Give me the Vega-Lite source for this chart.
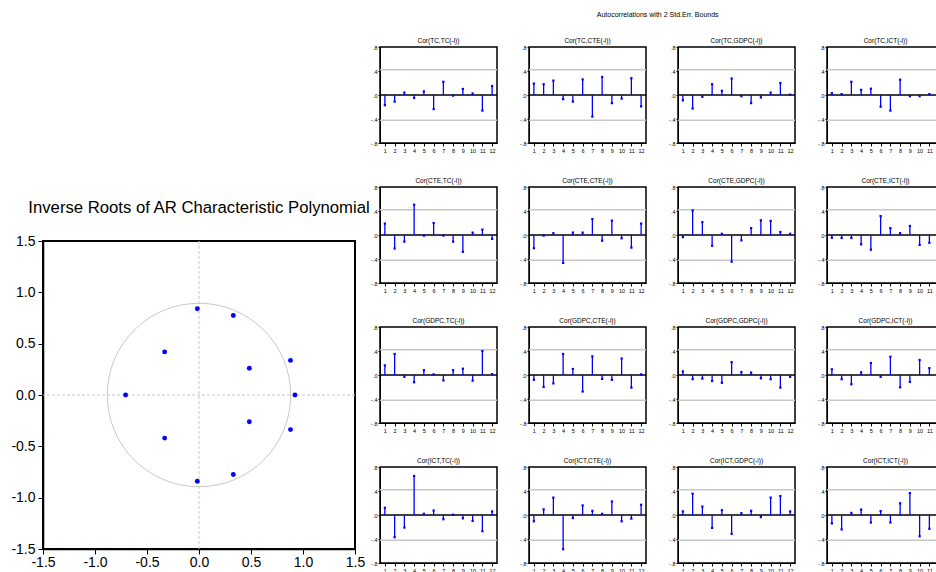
{
"$schema": "https://vega.github.io/schema/vega-lite/v6.json",
"background": "white",
"padding": {"left": 9, "top": 10, "right": 5, "bottom": 5},
"config": {
 "font": "Liberation Sans",
 "view": {"stroke": "black", "strokeWidth": 1.5},
 "axis": {"grid": false, "domainColor": "black", "tickColor": "black", "labelColor": "black", "title": null, "labelOverlap": false, "labelFlush": false},
 "title": {"color": "black", "fontWeight": "normal"}
},
"datasets": {
 "roots": [
  {"re": -0.016, "im": 0.84}, {"re": -0.016, "im": -0.84},
  {"re": 0.33, "im": 0.775}, {"re": 0.33, "im": -0.775},
  {"re": -0.33, "im": 0.42}, {"re": -0.33, "im": -0.42},
  {"re": 0.484, "im": 0.26}, {"re": 0.484, "im": -0.26},
  {"re": 0.88, "im": 0.337}, {"re": 0.88, "im": -0.337},
  {"re": -0.706, "im": 0}, {"re": 0.923, "im": 0}
 ],
 "acf": [
  {"p":"Cor(TC,TC(-i))","lag":1,"r":-0.17},{"p":"Cor(TC,TC(-i))","lag":2,"r":-0.11},{"p":"Cor(TC,TC(-i))","lag":3,"r":0.04},{"p":"Cor(TC,TC(-i))","lag":4,"r":-0.05},{"p":"Cor(TC,TC(-i))","lag":5,"r":0.06},{"p":"Cor(TC,TC(-i))","lag":6,"r":-0.235},{"p":"Cor(TC,TC(-i))","lag":7,"r":0.22},{"p":"Cor(TC,TC(-i))","lag":8,"r":-0.01},{"p":"Cor(TC,TC(-i))","lag":9,"r":0.10},{"p":"Cor(TC,TC(-i))","lag":10,"r":0.025},{"p":"Cor(TC,TC(-i))","lag":11,"r":-0.26},{"p":"Cor(TC,TC(-i))","lag":12,"r":0.15},
  {"p":"Cor(TC,CTE(-i))","lag":1,"r":0.19},{"p":"Cor(TC,CTE(-i))","lag":2,"r":0.18},{"p":"Cor(TC,CTE(-i))","lag":3,"r":0.24},{"p":"Cor(TC,CTE(-i))","lag":4,"r":-0.07},{"p":"Cor(TC,CTE(-i))","lag":5,"r":-0.11},{"p":"Cor(TC,CTE(-i))","lag":6,"r":0.26},{"p":"Cor(TC,CTE(-i))","lag":7,"r":-0.36},{"p":"Cor(TC,CTE(-i))","lag":8,"r":0.30},{"p":"Cor(TC,CTE(-i))","lag":9,"r":-0.135},{"p":"Cor(TC,CTE(-i))","lag":10,"r":-0.06},{"p":"Cor(TC,CTE(-i))","lag":11,"r":0.28},{"p":"Cor(TC,CTE(-i))","lag":12,"r":-0.19},
  {"p":"Cor(TC,GDPC(-i))","lag":1,"r":-0.09},{"p":"Cor(TC,GDPC(-i))","lag":2,"r":-0.225},{"p":"Cor(TC,GDPC(-i))","lag":3,"r":-0.03},{"p":"Cor(TC,GDPC(-i))","lag":4,"r":0.18},{"p":"Cor(TC,GDPC(-i))","lag":5,"r":0.07},{"p":"Cor(TC,GDPC(-i))","lag":6,"r":0.275},{"p":"Cor(TC,GDPC(-i))","lag":7,"r":-0.02},{"p":"Cor(TC,GDPC(-i))","lag":8,"r":-0.135},{"p":"Cor(TC,GDPC(-i))","lag":9,"r":-0.04},{"p":"Cor(TC,GDPC(-i))","lag":10,"r":0.04},{"p":"Cor(TC,GDPC(-i))","lag":11,"r":0.20},{"p":"Cor(TC,GDPC(-i))","lag":12,"r":0.005},
  {"p":"Cor(TC,ICT(-i))","lag":1,"r":0.03},{"p":"Cor(TC,ICT(-i))","lag":2,"r":0.015},{"p":"Cor(TC,ICT(-i))","lag":3,"r":0.22},{"p":"Cor(TC,ICT(-i))","lag":4,"r":0.085},{"p":"Cor(TC,ICT(-i))","lag":5,"r":0.105},{"p":"Cor(TC,ICT(-i))","lag":6,"r":-0.195},{"p":"Cor(TC,ICT(-i))","lag":7,"r":-0.26},{"p":"Cor(TC,ICT(-i))","lag":8,"r":0.255},{"p":"Cor(TC,ICT(-i))","lag":9,"r":-0.02},{"p":"Cor(TC,ICT(-i))","lag":10,"r":-0.02},{"p":"Cor(TC,ICT(-i))","lag":11,"r":0.015},{"p":"Cor(TC,ICT(-i))","lag":12,"r":0.01},
  {"p":"Cor(CTE,TC(-i))","lag":1,"r":0.19},{"p":"Cor(CTE,TC(-i))","lag":2,"r":-0.225},{"p":"Cor(CTE,TC(-i))","lag":3,"r":-0.11},{"p":"Cor(CTE,TC(-i))","lag":4,"r":0.505},{"p":"Cor(CTE,TC(-i))","lag":5,"r":-0.01},{"p":"Cor(CTE,TC(-i))","lag":6,"r":0.20},{"p":"Cor(CTE,TC(-i))","lag":7,"r":-0.01},{"p":"Cor(CTE,TC(-i))","lag":8,"r":-0.11},{"p":"Cor(CTE,TC(-i))","lag":9,"r":-0.28},{"p":"Cor(CTE,TC(-i))","lag":10,"r":0.04},{"p":"Cor(CTE,TC(-i))","lag":11,"r":0.09},{"p":"Cor(CTE,TC(-i))","lag":12,"r":-0.065},
  {"p":"Cor(CTE,CTE(-i))","lag":1,"r":-0.22},{"p":"Cor(CTE,CTE(-i))","lag":2,"r":-0.01},{"p":"Cor(CTE,CTE(-i))","lag":3,"r":0.03},{"p":"Cor(CTE,CTE(-i))","lag":4,"r":-0.465},{"p":"Cor(CTE,CTE(-i))","lag":5,"r":0.04},{"p":"Cor(CTE,CTE(-i))","lag":6,"r":0.04},{"p":"Cor(CTE,CTE(-i))","lag":7,"r":0.265},{"p":"Cor(CTE,CTE(-i))","lag":8,"r":-0.095},{"p":"Cor(CTE,CTE(-i))","lag":9,"r":0.24},{"p":"Cor(CTE,CTE(-i))","lag":10,"r":-0.055},{"p":"Cor(CTE,CTE(-i))","lag":11,"r":-0.21},{"p":"Cor(CTE,CTE(-i))","lag":12,"r":0.19},
  {"p":"Cor(CTE,GDPC(-i))","lag":1,"r":-0.035},{"p":"Cor(CTE,GDPC(-i))","lag":2,"r":0.41},{"p":"Cor(CTE,GDPC(-i))","lag":3,"r":0.215},{"p":"Cor(CTE,GDPC(-i))","lag":4,"r":-0.18},{"p":"Cor(CTE,GDPC(-i))","lag":5,"r":0.02},{"p":"Cor(CTE,GDPC(-i))","lag":6,"r":-0.445},{"p":"Cor(CTE,GDPC(-i))","lag":7,"r":-0.09},{"p":"Cor(CTE,GDPC(-i))","lag":8,"r":0.115},{"p":"Cor(CTE,GDPC(-i))","lag":9,"r":0.245},{"p":"Cor(CTE,GDPC(-i))","lag":10,"r":0.235},{"p":"Cor(CTE,GDPC(-i))","lag":11,"r":0.05},{"p":"Cor(CTE,GDPC(-i))","lag":12,"r":0.02},
  {"p":"Cor(CTE,ICT(-i))","lag":1,"r":-0.045},{"p":"Cor(CTE,ICT(-i))","lag":2,"r":-0.05},{"p":"Cor(CTE,ICT(-i))","lag":3,"r":-0.05},{"p":"Cor(CTE,ICT(-i))","lag":4,"r":-0.155},{"p":"Cor(CTE,ICT(-i))","lag":5,"r":-0.245},{"p":"Cor(CTE,ICT(-i))","lag":6,"r":0.315},{"p":"Cor(CTE,ICT(-i))","lag":7,"r":0.115},{"p":"Cor(CTE,ICT(-i))","lag":8,"r":0.03},{"p":"Cor(CTE,ICT(-i))","lag":9,"r":0.15},{"p":"Cor(CTE,ICT(-i))","lag":10,"r":-0.165},{"p":"Cor(CTE,ICT(-i))","lag":11,"r":-0.13},{"p":"Cor(CTE,ICT(-i))","lag":12,"r":-0.08},
  {"p":"Cor(GDPC,TC(-i))","lag":1,"r":0.16},{"p":"Cor(GDPC,TC(-i))","lag":2,"r":0.35},{"p":"Cor(GDPC,TC(-i))","lag":3,"r":-0.03},{"p":"Cor(GDPC,TC(-i))","lag":4,"r":-0.12},{"p":"Cor(GDPC,TC(-i))","lag":5,"r":0.08},{"p":"Cor(GDPC,TC(-i))","lag":6,"r":0.01},{"p":"Cor(GDPC,TC(-i))","lag":7,"r":-0.09},{"p":"Cor(GDPC,TC(-i))","lag":8,"r":0.08},{"p":"Cor(GDPC,TC(-i))","lag":9,"r":0.105},{"p":"Cor(GDPC,TC(-i))","lag":10,"r":-0.095},{"p":"Cor(GDPC,TC(-i))","lag":11,"r":0.40},{"p":"Cor(GDPC,TC(-i))","lag":12,"r":0.015},
  {"p":"Cor(GDPC,CTE(-i))","lag":1,"r":-0.08},{"p":"Cor(GDPC,CTE(-i))","lag":2,"r":-0.20},{"p":"Cor(GDPC,CTE(-i))","lag":3,"r":-0.14},{"p":"Cor(GDPC,CTE(-i))","lag":4,"r":0.35},{"p":"Cor(GDPC,CTE(-i))","lag":5,"r":0.10},{"p":"Cor(GDPC,CTE(-i))","lag":6,"r":-0.275},{"p":"Cor(GDPC,CTE(-i))","lag":7,"r":0.31},{"p":"Cor(GDPC,CTE(-i))","lag":8,"r":-0.065},{"p":"Cor(GDPC,CTE(-i))","lag":9,"r":-0.08},{"p":"Cor(GDPC,CTE(-i))","lag":10,"r":0.275},{"p":"Cor(GDPC,CTE(-i))","lag":11,"r":-0.21},{"p":"Cor(GDPC,CTE(-i))","lag":12,"r":0.01},
  {"p":"Cor(GDPC,GDPC(-i))","lag":1,"r":0.06},{"p":"Cor(GDPC,GDPC(-i))","lag":2,"r":-0.07},{"p":"Cor(GDPC,GDPC(-i))","lag":3,"r":-0.06},{"p":"Cor(GDPC,GDPC(-i))","lag":4,"r":-0.10},{"p":"Cor(GDPC,GDPC(-i))","lag":5,"r":-0.13},{"p":"Cor(GDPC,GDPC(-i))","lag":6,"r":0.215},{"p":"Cor(GDPC,GDPC(-i))","lag":7,"r":0.05},{"p":"Cor(GDPC,GDPC(-i))","lag":8,"r":0.04},{"p":"Cor(GDPC,GDPC(-i))","lag":9,"r":-0.055},{"p":"Cor(GDPC,GDPC(-i))","lag":10,"r":-0.07},{"p":"Cor(GDPC,GDPC(-i))","lag":11,"r":-0.21},{"p":"Cor(GDPC,GDPC(-i))","lag":12,"r":-0.03},
  {"p":"Cor(GDPC,ICT(-i))","lag":1,"r":0.095},{"p":"Cor(GDPC,ICT(-i))","lag":2,"r":-0.07},{"p":"Cor(GDPC,ICT(-i))","lag":3,"r":-0.155},{"p":"Cor(GDPC,ICT(-i))","lag":4,"r":0.045},{"p":"Cor(GDPC,ICT(-i))","lag":5,"r":0.20},{"p":"Cor(GDPC,ICT(-i))","lag":6,"r":-0.03},{"p":"Cor(GDPC,ICT(-i))","lag":7,"r":0.305},{"p":"Cor(GDPC,ICT(-i))","lag":8,"r":-0.205},{"p":"Cor(GDPC,ICT(-i))","lag":9,"r":-0.115},{"p":"Cor(GDPC,ICT(-i))","lag":10,"r":0.25},{"p":"Cor(GDPC,ICT(-i))","lag":11,"r":0.115},{"p":"Cor(GDPC,ICT(-i))","lag":12,"r":0.08},
  {"p":"Cor(ICT,TC(-i))","lag":1,"r":0.12},{"p":"Cor(ICT,TC(-i))","lag":2,"r":-0.37},{"p":"Cor(ICT,TC(-i))","lag":3,"r":-0.21},{"p":"Cor(ICT,TC(-i))","lag":4,"r":0.65},{"p":"Cor(ICT,TC(-i))","lag":5,"r":0.02},{"p":"Cor(ICT,TC(-i))","lag":6,"r":0.075},{"p":"Cor(ICT,TC(-i))","lag":7,"r":-0.07},{"p":"Cor(ICT,TC(-i))","lag":8,"r":0.005},{"p":"Cor(ICT,TC(-i))","lag":9,"r":-0.055},{"p":"Cor(ICT,TC(-i))","lag":10,"r":-0.10},{"p":"Cor(ICT,TC(-i))","lag":11,"r":-0.27},{"p":"Cor(ICT,TC(-i))","lag":12,"r":0.06},
  {"p":"Cor(ICT,CTE(-i))","lag":1,"r":-0.105},{"p":"Cor(ICT,CTE(-i))","lag":2,"r":0.095},{"p":"Cor(ICT,CTE(-i))","lag":3,"r":0.29},{"p":"Cor(ICT,CTE(-i))","lag":4,"r":-0.57},{"p":"Cor(ICT,CTE(-i))","lag":5,"r":-0.05},{"p":"Cor(ICT,CTE(-i))","lag":6,"r":0.16},{"p":"Cor(ICT,CTE(-i))","lag":7,"r":0.07},{"p":"Cor(ICT,CTE(-i))","lag":8,"r":0.02},{"p":"Cor(ICT,CTE(-i))","lag":9,"r":0.225},{"p":"Cor(ICT,CTE(-i))","lag":10,"r":-0.105},{"p":"Cor(ICT,CTE(-i))","lag":11,"r":-0.06},{"p":"Cor(ICT,CTE(-i))","lag":12,"r":0.17},
  {"p":"Cor(ICT,GDPC(-i))","lag":1,"r":0.06},{"p":"Cor(ICT,GDPC(-i))","lag":2,"r":0.355},{"p":"Cor(ICT,GDPC(-i))","lag":3,"r":0.14},{"p":"Cor(ICT,GDPC(-i))","lag":4,"r":-0.215},{"p":"Cor(ICT,GDPC(-i))","lag":5,"r":0.08},{"p":"Cor(ICT,GDPC(-i))","lag":6,"r":-0.315},{"p":"Cor(ICT,GDPC(-i))","lag":7,"r":0.03},{"p":"Cor(ICT,GDPC(-i))","lag":8,"r":0.07},{"p":"Cor(ICT,GDPC(-i))","lag":9,"r":-0.035},{"p":"Cor(ICT,GDPC(-i))","lag":10,"r":0.29},{"p":"Cor(ICT,GDPC(-i))","lag":11,"r":0.315},{"p":"Cor(ICT,GDPC(-i))","lag":12,"r":0.06},
  {"p":"Cor(ICT,ICT(-i))","lag":1,"r":-0.14},{"p":"Cor(ICT,ICT(-i))","lag":2,"r":-0.24},{"p":"Cor(ICT,ICT(-i))","lag":3,"r":0.035},{"p":"Cor(ICT,ICT(-i))","lag":4,"r":0.09},{"p":"Cor(ICT,ICT(-i))","lag":5,"r":-0.125},{"p":"Cor(ICT,ICT(-i))","lag":6,"r":0.065},{"p":"Cor(ICT,ICT(-i))","lag":7,"r":-0.125},{"p":"Cor(ICT,ICT(-i))","lag":8,"r":0.195},{"p":"Cor(ICT,ICT(-i))","lag":9,"r":0.365},{"p":"Cor(ICT,ICT(-i))","lag":10,"r":-0.355},{"p":"Cor(ICT,ICT(-i))","lag":11,"r":-0.23},{"p":"Cor(ICT,ICT(-i))","lag":12,"r":-0.1}
 ]
},
"spacing": -3,
"hconcat": [
 {
  "spacing": 0,
  "vconcat": [
   {"width": 312, "height": 151, "data": {"values": [{"a": 1}]}, "mark": {"type": "point", "opacity": 0}, "encoding": {}, "view": {"stroke": "transparent"}},
   {
    "width": 312, "height": 308,
    "title": {"text": "Inverse Roots of AR Characteristic Polynomial", "fontSize": 16.7, "anchor": "middle", "offset": 17},
    "view": {"stroke": "black", "strokeWidth": 2},
    "layer": [
     {"data": {"values": [{"v": 0}]}, "mark": {"type": "rule", "color": "#c8c8c8", "strokeDash": [3, 2], "strokeWidth": 1},
      "encoding": {"x": {"field": "v", "type": "quantitative", "scale": {"domain": [-1.5, 1.5], "nice": false, "zero": false}}}},
     {"data": {"values": [{"v": 0}]}, "mark": {"type": "rule", "color": "#c8c8c8", "strokeDash": [3, 2], "strokeWidth": 1},
      "encoding": {"y": {"field": "v", "type": "quantitative", "scale": {"domain": [-1.5, 1.5], "nice": false, "zero": false}}}},
     {"data": {"values": [{"cx": 0, "cy": 0}]}, "mark": {"type": "point", "shape": "circle", "filled": false, "size": 33650, "color": "#c8c8c8", "strokeWidth": 1, "opacity": 1},
      "encoding": {"x": {"field": "cx", "type": "quantitative"}, "y": {"field": "cy", "type": "quantitative"}}},
     {"data": {"name": "roots"}, "mark": {"type": "circle", "size": 24, "color": "#0000ff", "opacity": 1},
      "encoding": {
       "x": {"field": "re", "type": "quantitative", "scale": {"domain": [-1.5, 1.5], "nice": false, "zero": false},
             "axis": {"values": [-1.5, -1, -0.5, 0, 0.5, 1, 1.5], "labelExpr": "(datum.value < 0 ? '-' : '') + format(abs(datum.value), '.1f')", "labelFontSize": 14, "tickSize": 5, "labelPadding": 1, "domainWidth": 1.5}},
       "y": {"field": "im", "type": "quantitative", "scale": {"domain": [-1.5, 1.5], "nice": false, "zero": false},
             "axis": {"values": [-1.5, -1, -0.5, 0, 0.5, 1, 1.5], "labelExpr": "(datum.value < 0 ? '-' : '') + format(abs(datum.value), '.1f')", "labelFontSize": 14, "tickSize": 5, "labelPadding": 3, "domainWidth": 1.5}}
      }}
    ]
   }
  ]
 },
 {
  "data": {"name": "acf"},
  "title": {"text": "Autocorrelations with 2 Std.Err. Bounds", "fontSize": 7, "anchor": "middle", "offset": 19},
  "facet": {"field": "p", "type": "nominal",
   "sort": ["Cor(TC,TC(-i))","Cor(TC,CTE(-i))","Cor(TC,GDPC(-i))","Cor(TC,ICT(-i))","Cor(CTE,TC(-i))","Cor(CTE,CTE(-i))","Cor(CTE,GDPC(-i))","Cor(CTE,ICT(-i))","Cor(GDPC,TC(-i))","Cor(GDPC,CTE(-i))","Cor(GDPC,GDPC(-i))","Cor(GDPC,ICT(-i))","Cor(ICT,TC(-i))","Cor(ICT,CTE(-i))","Cor(ICT,GDPC(-i))","Cor(ICT,ICT(-i))"],
   "header": {"title": null, "labelFontSize": 6.5, "labelPadding": 1, "labelColor": "black"}},
  "columns": 4,
  "spacing": {"row": 44, "column": 32},
  "bounds": "flush",
  "resolve": {"axis": {"x": "independent", "y": "independent"}},
  "spec": {
   "width": 117, "height": 96,
   "layer": [
    {"transform": [{"filter": "datum.lag == 1"}], "mark": {"type": "rule", "color": "#c8c8c8", "strokeWidth": 1.5},
     "encoding": {"y": {"datum": 0.42, "type": "quantitative", "axis": {"values": [-0.8, -0.4, 0, 0.4, 0.8], "labelExpr": "datum.value > 0.6 ? '.8' : datum.value > 0.2 ? '.4' : datum.value > -0.2 ? '.0' : datum.value > -0.6 ? '-.4' : '-.8'", "labelFontSize": 5.5, "tickSize": 2, "labelPadding": 1, "labelOverlap": false}}}},
    {"transform": [{"filter": "datum.lag == 1"}], "mark": {"type": "rule", "color": "#c8c8c8", "strokeWidth": 1.5},
     "encoding": {"y": {"datum": -0.42, "type": "quantitative", "axis": {"values": [-0.8, -0.4, 0, 0.4, 0.8], "labelExpr": "datum.value > 0.6 ? '.8' : datum.value > 0.2 ? '.4' : datum.value > -0.2 ? '.0' : datum.value > -0.6 ? '-.4' : '-.8'", "labelFontSize": 5.5, "tickSize": 2, "labelPadding": 1, "labelOverlap": false}}}},
    {"transform": [{"filter": "datum.lag == 1"}], "mark": {"type": "rule", "color": "black", "strokeWidth": 1.5},
     "encoding": {"y": {"datum": 0, "type": "quantitative", "axis": {"values": [-0.8, -0.4, 0, 0.4, 0.8], "labelExpr": "datum.value > 0.6 ? '.8' : datum.value > 0.2 ? '.4' : datum.value > -0.2 ? '.0' : datum.value > -0.6 ? '-.4' : '-.8'", "labelFontSize": 5.5, "tickSize": 2, "labelPadding": 1, "labelOverlap": false}}}},
    {"mark": {"type": "rule", "color": "#0000ff", "strokeWidth": 1.3},
     "encoding": {
      "x": {"field": "lag", "type": "ordinal", "sort": [1,2,3,4,5,6,7,8,9,10,11,12], "scale": {"type": "point", "padding": 0.5},
            "axis": {"labelAngle": 0, "labelFontSize": 5.5, "tickSize": 3, "labelPadding": 2}},
      "y": {"field": "r", "type": "quantitative", "scale": {"domain": [-0.8, 0.8], "nice": false, "zero": false},
            "axis": {"values": [-0.8, -0.4, 0, 0.4, 0.8], "labelExpr": "datum.value > 0.6 ? '.8' : datum.value > 0.2 ? '.4' : datum.value > -0.2 ? '.0' : datum.value > -0.6 ? '-.4' : '-.8'", "labelFontSize": 5.5, "tickSize": 2, "labelPadding": 1, "labelOverlap": false}},
      "y2": {"datum": 0}
     }},
    {"mark": {"type": "square", "size": 5, "color": "#0000ff", "opacity": 1},
     "encoding": {
      "x": {"field": "lag", "type": "ordinal", "sort": [1,2,3,4,5,6,7,8,9,10,11,12],
            "axis": {"labelAngle": 0, "labelFontSize": 5.5, "tickSize": 3, "labelPadding": 2}},
      "y": {"field": "r", "type": "quantitative",
            "axis": {"values": [-0.8, -0.4, 0, 0.4, 0.8], "labelExpr": "datum.value > 0.6 ? '.8' : datum.value > 0.2 ? '.4' : datum.value > -0.2 ? '.0' : datum.value > -0.6 ? '-.4' : '-.8'", "labelFontSize": 5.5, "tickSize": 2, "labelPadding": 1, "labelOverlap": false}}
     }}
   ]
  }
 }
]
}
